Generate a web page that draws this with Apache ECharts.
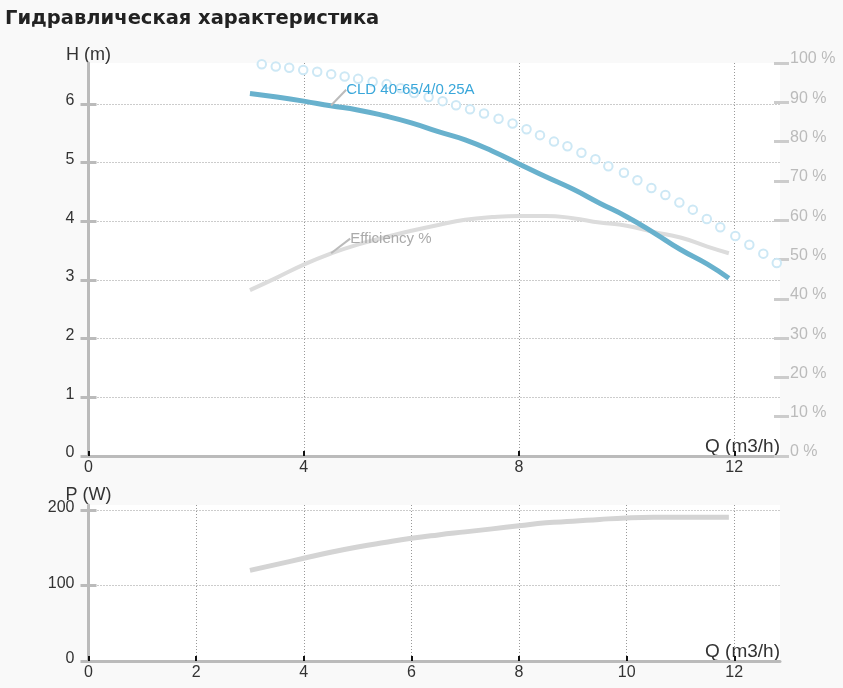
<!DOCTYPE html>
<html><head><meta charset="utf-8">
<script src="https://cdn.jsdelivr.net/npm/echarts@6/dist/echarts.min.js"></script>
<style>html,body{margin:0;padding:0;background:#f9f9f9}#c{width:843px;height:688px}</style>
</head><body><div id="c"></div>
<script>
const titleText = 'Гидравлическая характеристика';
const curveName = 'CLD 40-65/4/0.25A';
const effName = 'Efficiency %';
const flow = [3,3.5,4,4.5,5,5.5,6,6.5,7,7.5,8,8.5,9,9.5,10,10.5,11,11.5,11.9];
const head = [6.18,6.12,6.05,5.97,5.90,5.80,5.68,5.53,5.39,5.20,4.98,4.76,4.55,4.31,4.08,3.81,3.52,3.27,3.03];
const efficiency = [42.2,45.4,48.7,51.5,53.8,55.6,57.3,58.8,60.1,60.8,61.1,61.1,60.5,59.4,58.6,57.0,55.6,53.3,51.6];
const power = [120,128,136,144,151,157,162.5,167,171,175,179,183,185,187.5,189.5,190.3,190.3,190.3,190.3];
const dotFlow = [3.22,3.48,3.73,3.99,4.25,4.51,4.76,5.01,5.28,5.54,5.80,6.05,6.32,6.58,6.83,7.09,7.35,7.62,7.88,8.14,8.39,8.65,8.90,9.16,9.42,9.66,9.95,10.20,10.46,10.72,10.98,11.23,11.49,11.74,12.02,12.28,12.54,12.79];
const dotHead = [6.68,6.64,6.62,6.58,6.55,6.51,6.47,6.43,6.38,6.34,6.27,6.19,6.12,6.05,5.98,5.91,5.84,5.75,5.67,5.57,5.47,5.36,5.28,5.17,5.06,4.94,4.83,4.70,4.57,4.45,4.32,4.20,4.04,3.90,3.75,3.60,3.45,3.29];
const hTicks = [0,1,2,3,4,5,6];
const qTicksTop = [0,4,8,12];
const qTicksBottom = [0,2,4,6,8,10,12];
const pTicks = [0,100,200];
const labelFlow = 4.5;

const FONT = 'Liberation Sans, Arial, sans-serif';
const QMAX = 12.85, HMAX = 6.7, PMAX = 206.6;
const GRIDLINE = {type:[1,2], color:'#999', width:1};

function xAx(grid, ticks){
  return {
    type:'value', gridIndex:grid, min:0, max:QMAX,
    name:'Q (m3/h)', nameLocation:'end', nameGap:0, nameMoveOverlap:false,
    nameTextStyle:{align:'right', verticalAlign:'bottom', color:'#333', fontSize:19, fontFamily:FONT},
    axisLine:{show:true, onZero:false, lineStyle:{color:'#bbb', width:3}},
    axisTick:{show:true, inside:true, length:5, lineStyle:{color:'#111', width:2}, customValues:ticks},
    axisLabel:{color:'#333', fontSize:16, fontFamily:FONT, margin:4, customValues:ticks},
    splitLine:{show:true, lineStyle:GRIDLINE}
  };
}
function yMain(grid, max, ticks, name, nameGap, lh){
  return {
    type:'value', gridIndex:grid, min:0, max:max, position:'left',
    name:name, nameLocation:'end', nameGap:nameGap, nameMoveOverlap:false,
    nameTextStyle:{color:'#333', fontSize:18, fontFamily:FONT, align:'center'},
    axisLine:{show:true, onZero:false, lineStyle:{color:'#bbb', width:3}},
    axisTick:{show:true, inside:true, length:8, lineStyle:{color:'#bbb', width:3}, customValues:ticks},
    axisLabel:{color:'#333', fontSize:16, fontFamily:FONT, margin:14, verticalAlign:'bottom', lineHeight:lh, customValues:ticks},
    splitLine:{show:true, lineStyle:GRIDLINE}
  };
}
function yOuter(grid, max, ticks){
  return {
    type:'value', gridIndex:grid, min:0, max:max, position:'left',
    axisLine:{show:false, onZero:false},
    axisTick:{show:true, inside:false, length:8, lineStyle:{color:'#bbb', width:3}, customValues:ticks},
    axisLabel:{show:false, customValues:ticks},
    splitLine:{show:false}
  };
}

function labelled(xs, ys, text, color, size){
  return xs.map((q,i)=> q===labelFlow ? {
    value:[q, ys[i]],
    symbol:'circle', symbolSize:1,
    label:{show:true, position:'right', formatter:text, color:color, fontSize:size, fontFamily:FONT},
    labelLine:{show:true, lineStyle:{color:'#bbb', width:2}}
  } : [q, ys[i]]);
}

const chart = echarts.init(document.getElementById('c'), null, {renderer:'canvas'});
chart.setOption({
  animation:false,
  backgroundColor:'#f9f9f9',
  title:{text:titleText, left:0, top:4, textStyle:{fontSize:19.5, fontWeight:'bold', color:'#222', fontFamily:'DejaVu Sans, sans-serif'}},
  grid:[
    {left:88.5, right:63, top:63, bottom:232, show:true, backgroundColor:'#fff', borderWidth:0},
    {left:88.5, right:63, top:505, bottom:27, show:true, backgroundColor:'#fff', borderWidth:0}
  ],
  xAxis:[ xAx(0, qTicksTop), xAx(1, qTicksBottom) ],
  yAxis:[
    yMain(0, HMAX, hTicks, 'H (m)', -1, 6),
    {
      type:'value', gridIndex:0, min:0, max:100, interval:10, position:'right', offset:-6,
      axisLine:{show:false, onZero:false},
      axisTick:{show:true, inside:false, length:15, lineStyle:{color:'#ccc', width:3}},
      axisLabel:{formatter:'{value} %', color:'#bbb', fontSize:16, fontFamily:FONT, margin:16, verticalAlign:'bottom', lineHeight:8},
      splitLine:{show:false}
    },
    yOuter(0, HMAX, hTicks),
    yMain(1, PMAX, pTicks, 'P (W)', 1, 4),
    yOuter(1, PMAX, pTicks)
  ],
  series:[
    {
      type:'line', xAxisIndex:0, yAxisIndex:0, silent:true, z:1,
      data:dotFlow.map((q,i)=>[q, dotHead[i]]),
      symbol:'emptyCircle', symbolSize:8.5, showAllSymbol:true,
      itemStyle:{color:'#cde8f5', borderColor:'#cde8f5', borderWidth:2.4},
      lineStyle:{width:0, opacity:0}
    },
    {
      type:'line', xAxisIndex:0, yAxisIndex:1, silent:true, z:2, smooth:true,
      data:labelled(flow, efficiency, effName, '#aaa', 15),
      symbol:'none', showSymbol:true, showAllSymbol:true,
      itemStyle:{color:'#dcdcdc'},
      lineStyle:{color:'#dcdcdc', width:4},
      labelLayout:{dx:14, dy:-15}
    },
    {
      type:'line', xAxisIndex:0, yAxisIndex:0, silent:true, z:3, smooth:true,
      data:labelled(flow, head, curveName, '#3aa7da', 15),
      symbol:'none', showSymbol:true, showAllSymbol:true,
      itemStyle:{color:'#68b1cd'},
      lineStyle:{color:'#68b1cd', width:5},
      labelLayout:{dx:10, dy:-16}
    },
    {
      type:'line', xAxisIndex:1, yAxisIndex:3, silent:true, smooth:true,
      data:flow.map((q,i)=>[q, power[i]]), symbol:'none', showSymbol:false,
      lineStyle:{color:'#d4d4d4', width:5}
    }
  ]
});
</script></body></html>
